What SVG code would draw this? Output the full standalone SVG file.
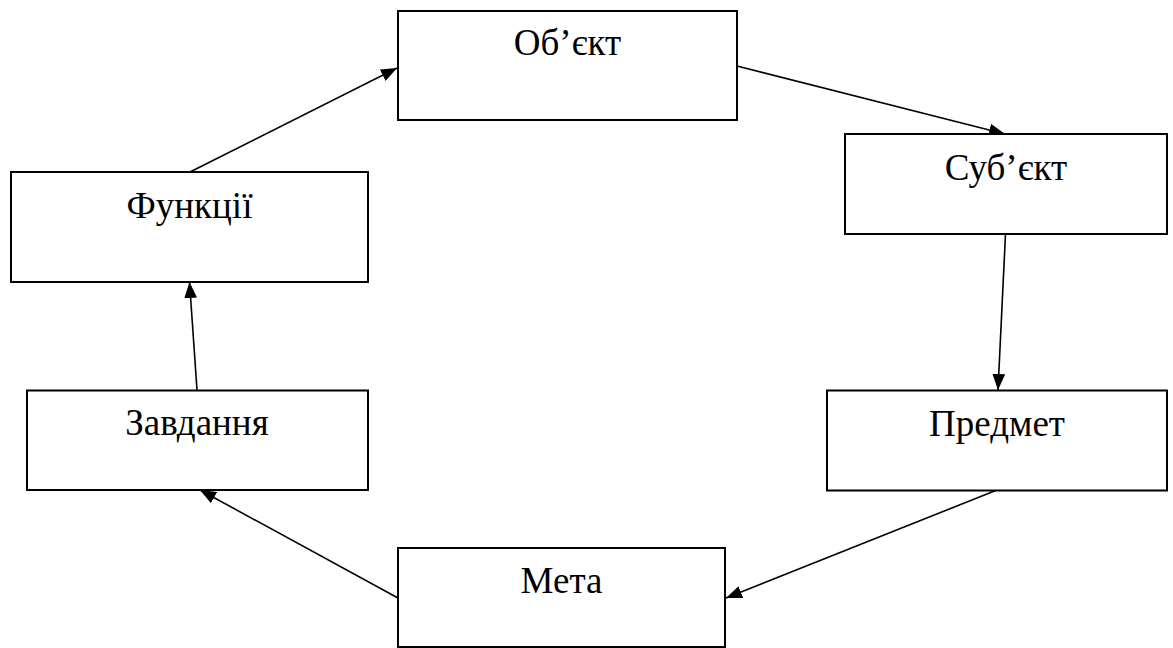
<svg xmlns="http://www.w3.org/2000/svg" width="1173" height="648" viewBox="0 0 1173 648">
<style>
.box{fill:#fff;stroke:#000;stroke-width:2}
.lbl{font-family:"Liberation Serif","Times New Roman",serif;font-size:37px;fill:#000;text-anchor:middle}
.edge{stroke:#000;stroke-width:1.6;fill:none;marker-end:url(#ah)}
</style>
<defs>
<marker id="ah" markerWidth="10" markerHeight="8" refX="10" refY="4" orient="auto" markerUnits="strokeWidth">
<path d="M0,0 L10,4 L0,8 z" fill="#000"/>
</marker>
</defs>
<rect width="1173" height="648" fill="#fff"/>
<g id="connectors">
<line class="edge" x1="190" y1="172" x2="397" y2="68"/>
<line class="edge" x1="737" y1="66" x2="1005" y2="134"/>
<line class="edge" x1="1005.5" y1="234" x2="998" y2="390"/>
<line class="edge" x1="997" y1="490" x2="726" y2="598"/>
<line class="edge" x1="398" y1="598" x2="200" y2="490"/>
<line class="edge" x1="197" y1="390" x2="189.5" y2="282"/>
</g>
<g id="obiekt">
<rect class="box" x="398" y="11" width="339" height="109"/>
<text class="lbl" x="567.5" y="55">Об’єкт</text>
</g>
<g id="subiekt">
<rect class="box" x="845" y="134" width="322" height="100"/>
<text class="lbl" x="1006" y="180">Суб’єкт</text>
</g>
<g id="predmet">
<rect class="box" x="827" y="390.5" width="340" height="100"/>
<text class="lbl" x="997" y="436">Предмет</text>
</g>
<g id="meta">
<rect class="box" x="398" y="548" width="327" height="99"/>
<text class="lbl" x="561.5" y="593">Мета</text>
</g>
<g id="zavdannia">
<rect class="box" x="27" y="390.5" width="341" height="99.5"/>
<text class="lbl" x="197" y="435">Завдання</text>
</g>
<g id="funktsii">
<rect class="box" x="11" y="172" width="357" height="110"/>
<text class="lbl" x="189.5" y="218">Функції</text>
</g>
</svg>
